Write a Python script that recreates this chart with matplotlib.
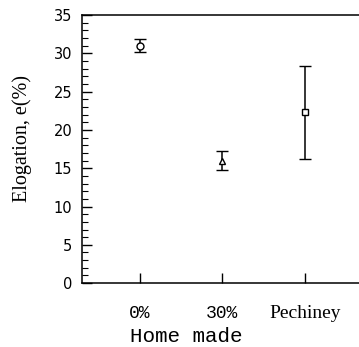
import matplotlib
matplotlib.use("Agg")
import matplotlib.pyplot as plt
from matplotlib.ticker import MultipleLocator
import matplotlib.transforms as mtransforms

# data
categories = ["0%", "30%", "Pechiney"]
positions = [1, 2, 3]
elongation = [31.0, 16.0, 22.3]
errors = [0.8, 1.3, 6.1]
markers = ["o", "^", "s"]

fig = plt.figure(figsize=(3.59, 3.47), dpi=100)
ax = fig.add_axes([0.228, 0.184, 0.78, 0.773])

for x, y, e, m in zip(positions, elongation, errors, markers):
    ax.errorbar(x, y, yerr=e, fmt=m, color="black", mfc="white", mec="black",
                ms=5, mew=1.0, elinewidth=1.1, capsize=4, capthick=1.3)

ax.set_xlim(0.3, 3.69)
ax.set_ylim(0, 35)
ax.yaxis.set_major_locator(MultipleLocator(5))
ax.yaxis.set_minor_locator(MultipleLocator(1))
ax.set_xticks(positions)
ax.set_xticklabels(categories)
ax.tick_params(axis="both", which="major", direction="in", length=7, width=1.0)
ax.tick_params(axis="y", which="minor", direction="in", length=4, width=0.8)
ax.tick_params(axis="y", labelsize=10.5, pad=7)
ax.tick_params(axis="x", labelsize=13, pad=16)
for lab in ax.get_yticklabels():
    lab.set_family("DejaVu Sans")
for lab in ax.get_xticklabels():
    if lab.get_text() == "Pechiney":
        lab.set_family("Liberation Serif")
        lab.set_fontsize(14)
    else:
        lab.set_family("Liberation Mono")

for sp in ax.spines.values():
    sp.set_linewidth(1.1)

ax.set_ylabel("Elogation, e(%)", family="Liberation Serif", fontsize=14.5)
ax.yaxis.set_label_coords(-0.177, 0.54)

trans = mtransforms.blended_transform_factory(ax.transData, ax.transAxes)
ax.text(1.56, -0.199, "Home made", transform=trans, ha="center", va="center",
        family="Liberation Mono", fontsize=15)

fig.savefig("out.png", dpi=100)
